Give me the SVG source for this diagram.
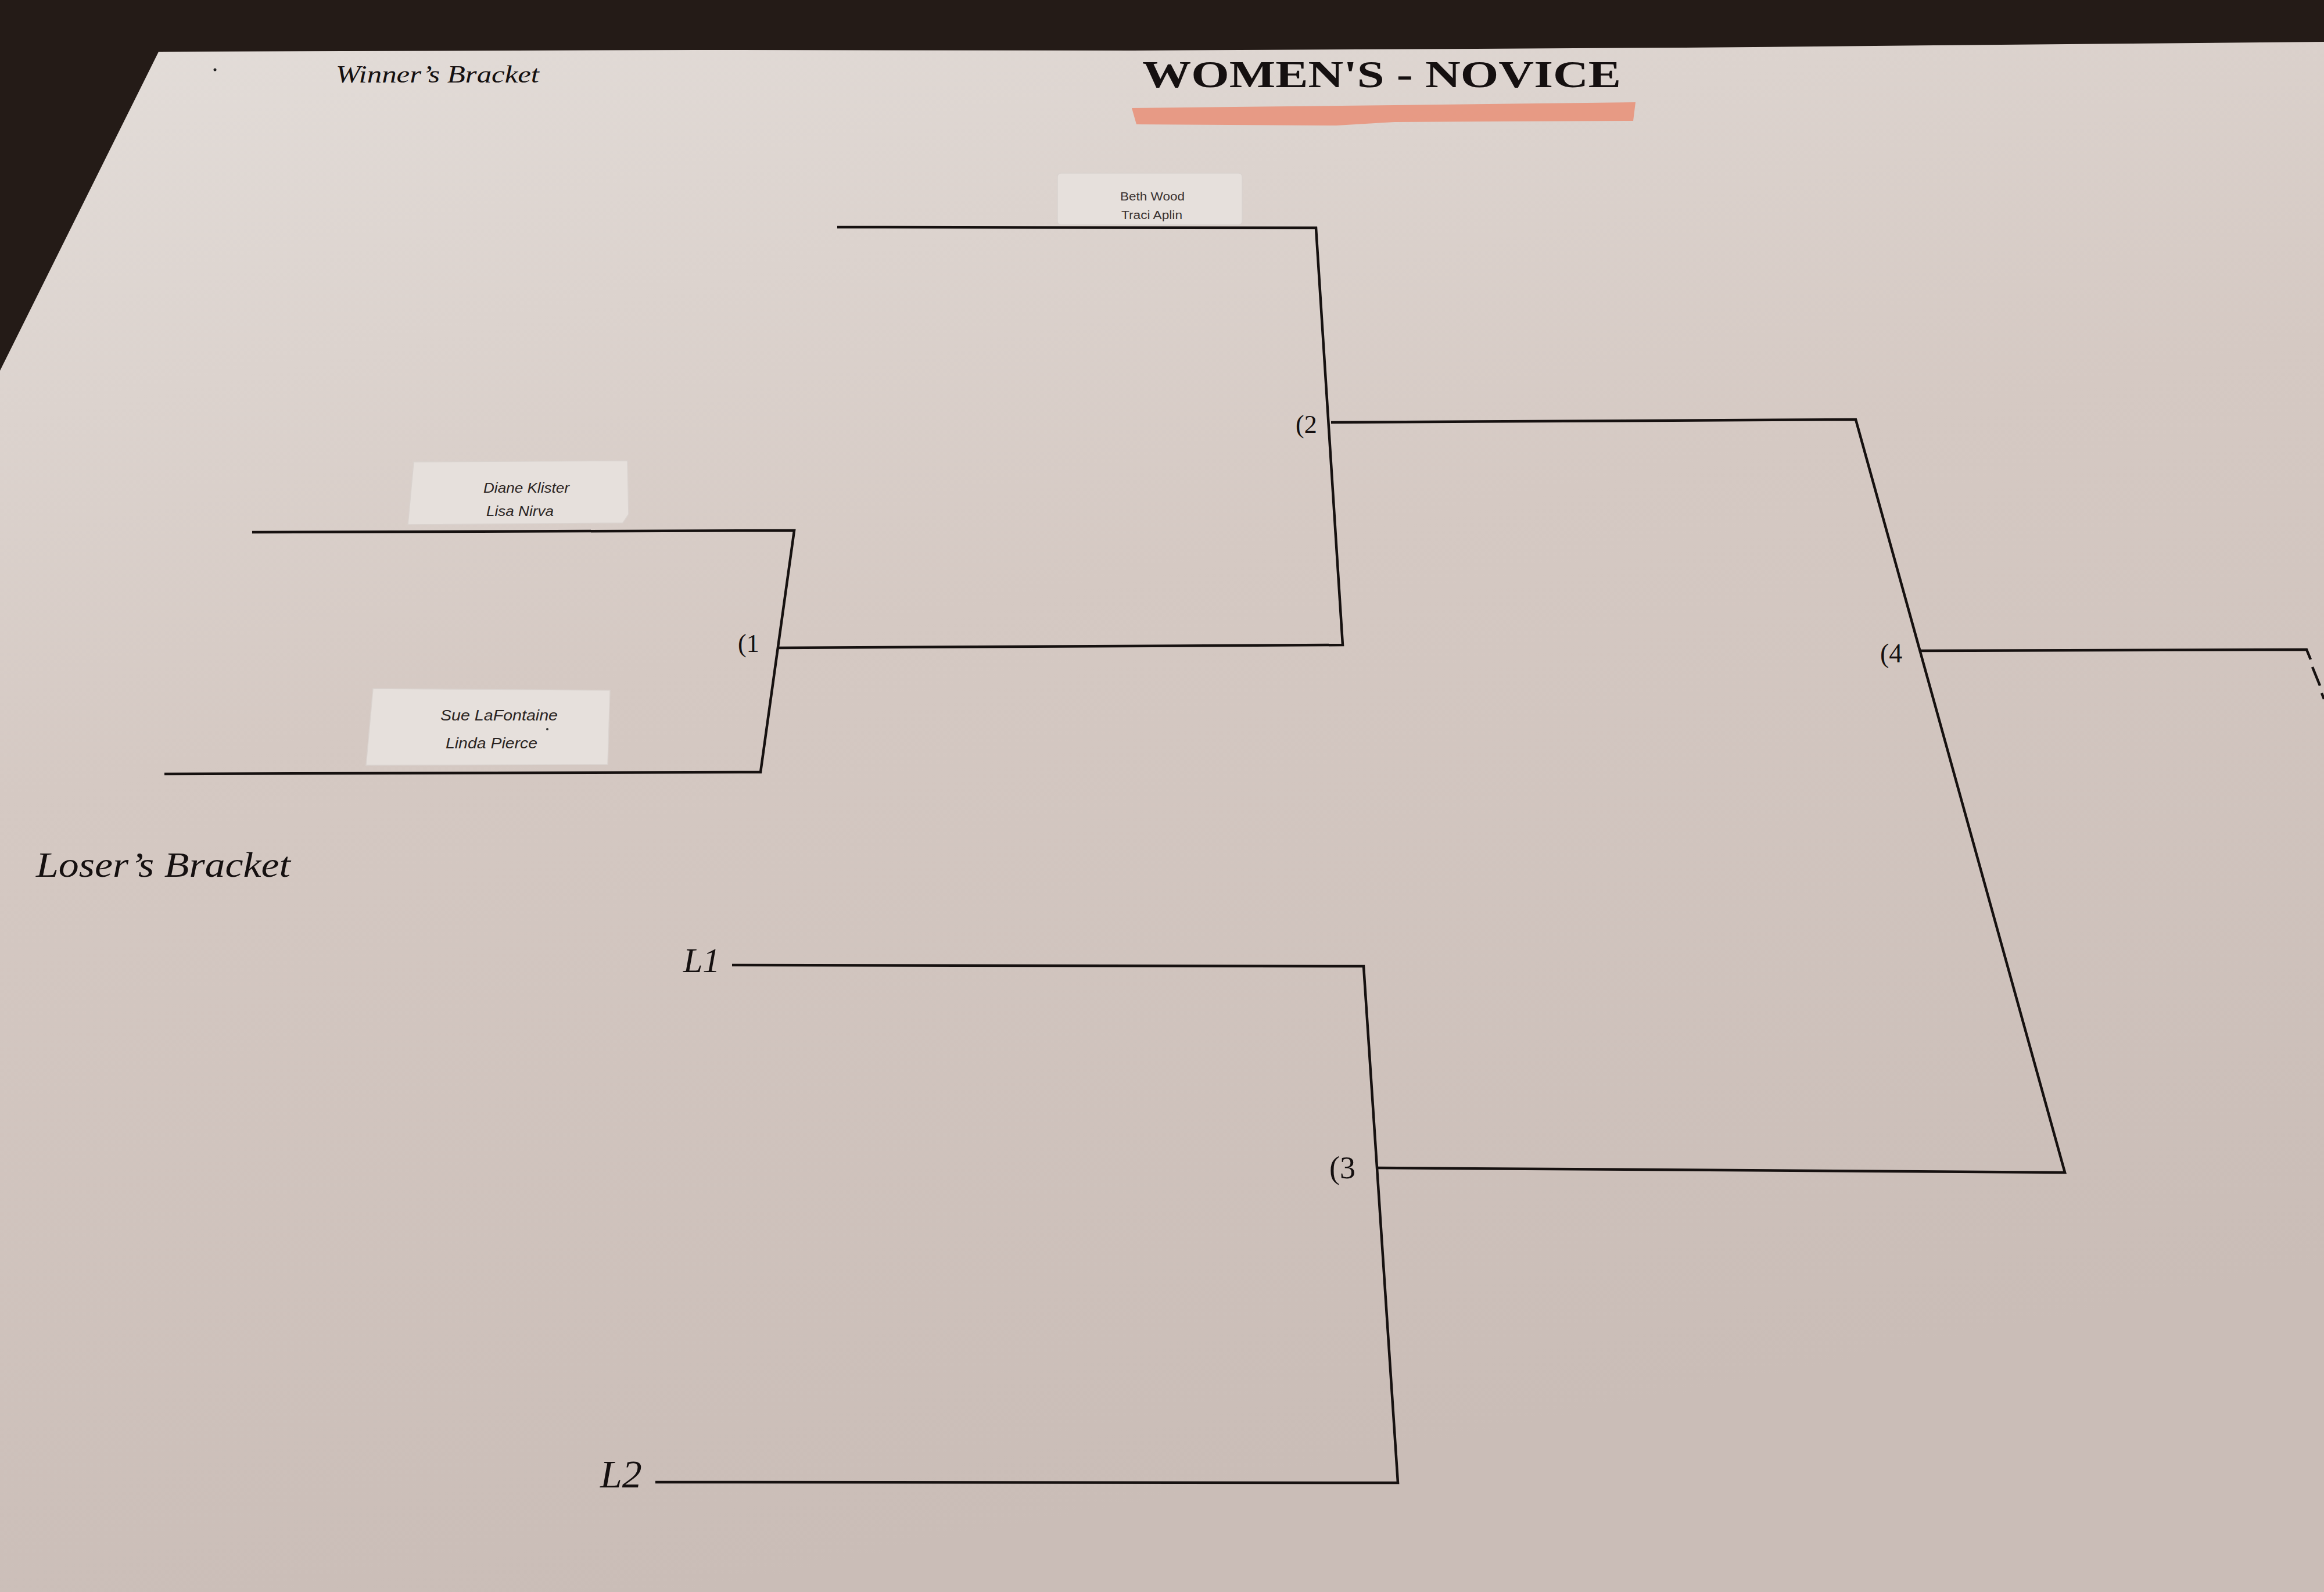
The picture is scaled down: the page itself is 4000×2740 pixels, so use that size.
<svg xmlns="http://www.w3.org/2000/svg" width="4000" height="2740" viewBox="0 0 4000 2740">
<defs>
<linearGradient id="paper" x1="0" y1="0" x2="0.3" y2="1">
<stop offset="0" stop-color="#e3ddd9"/>
<stop offset="0.45" stop-color="#d5c9c3"/>
<stop offset="1" stop-color="#cabdb7"/>
</linearGradient>
<style>
.ln{fill:none;stroke:#161110;stroke-width:4.5;stroke-linejoin:miter;stroke-linecap:butt}
.tag{fill:#e6e0dc;stroke:#d9d2ce;stroke-width:1.5}
.nm{font-family:"Liberation Sans",Arial,sans-serif;fill:#2a2422;font-style:italic}
.nm2{font-family:"Liberation Sans",Arial,sans-serif;fill:#3a3230}
.hd{font-family:"Liberation Serif","Times New Roman",serif;font-style:italic;fill:#151010}
.mt{font-family:"Liberation Serif","Times New Roman",serif;fill:#151010}
</style>
</defs>
<rect x="0" y="0" width="4000" height="2740" fill="#241b17"/>
<polygon points="273,89 1200,86 1950,87 2900,82 4000,72 4000,2740 0,2740 0,638" fill="url(#paper)"/>

<g id="title">
<polygon points="1948,186 2400,181 2815,176 2811,208 2400,210 2300,216 1956,214" fill="#e8937c" opacity="0.9"/>
<text class="mt" x="1966" y="150" font-size="66" font-weight="bold" textLength="824" lengthAdjust="spacingAndGlyphs">WOMEN'S - NOVICE</text>
</g>
<g id="winners-heading">
<circle cx="370" cy="120" r="2.5" fill="#222"/>
<text class="hd" x="578" y="142" font-size="42" textLength="350" lengthAdjust="spacingAndGlyphs">Winner’s Bracket</text>
</g>
<g id="losers-heading">
<text class="hd" x="62" y="1509" font-size="62" textLength="438" lengthAdjust="spacingAndGlyphs">Loser’s Bracket</text>
</g>

<g id="team-beth-traci">
<rect class="tag" x="1820" y="298" width="318" height="89" rx="6"/>
<text class="nm2" x="1928" y="345" font-size="20" textLength="111" lengthAdjust="spacingAndGlyphs">Beth Wood</text>
<text class="nm2" x="1930" y="377" font-size="20" textLength="105" lengthAdjust="spacingAndGlyphs">Traci Aplin</text>
</g>
<g id="team-diane-lisa">
<polygon class="tag" points="712,795 1080,793 1082,885 1072,900 702,903" />
<text class="nm" x="832" y="848" font-size="24" textLength="148" lengthAdjust="spacingAndGlyphs">Diane Klister</text>
<text class="nm" x="837" y="888" font-size="24" textLength="116" lengthAdjust="spacingAndGlyphs">Lisa Nirva</text>
</g>
<g id="team-sue-linda">
<polygon class="tag" points="642,1185 1050,1188 1046,1316 630,1317" />
<text class="nm" x="758" y="1240" font-size="25" textLength="202" lengthAdjust="spacingAndGlyphs">Sue LaFontaine</text>
<text class="nm" x="767" y="1288" font-size="25" textLength="158" lengthAdjust="spacingAndGlyphs">Linda Pierce</text>
<circle cx="942" cy="1255" r="2" fill="#333"/>
</g>

<g id="match-1"><text class="mt" x="1270" y="1122" font-size="44">(1</text></g>
<g id="match-2"><text class="mt" x="2230" y="745" font-size="44">(2</text></g>
<g id="match-3"><text class="mt" x="2288" y="2028" font-size="54">(3</text></g>
<g id="match-4"><text class="mt" x="3236" y="1140" font-size="46">(4</text></g>
<g id="slot-L1"><text class="hd" x="1176" y="1673" font-size="60">L1</text></g>
<g id="slot-L2"><text class="hd" x="1033" y="2560" font-size="68">L2</text></g>

<g id="connectors">
<polyline class="ln" points="434,916 1367,913 1309,1329 283,1332"/>
<polyline class="ln" points="1441,391 2265,392 2311,1110 1339,1115"/>
<polyline class="ln" points="2291,727 3194,722 3554,2018 2372,2010"/>
<polyline class="ln" points="1260,1661 2347,1663 2406,2552 1128,2551" stroke-width="5"/>
<polyline class="ln" points="3306,1120 3970,1118 3977,1135"/>
<line class="ln" x1="3980" y1="1148" x2="3993" y2="1180"/>
<line class="ln" x1="3996" y1="1193" x2="4000" y2="1203"/>
</g>
</svg>
